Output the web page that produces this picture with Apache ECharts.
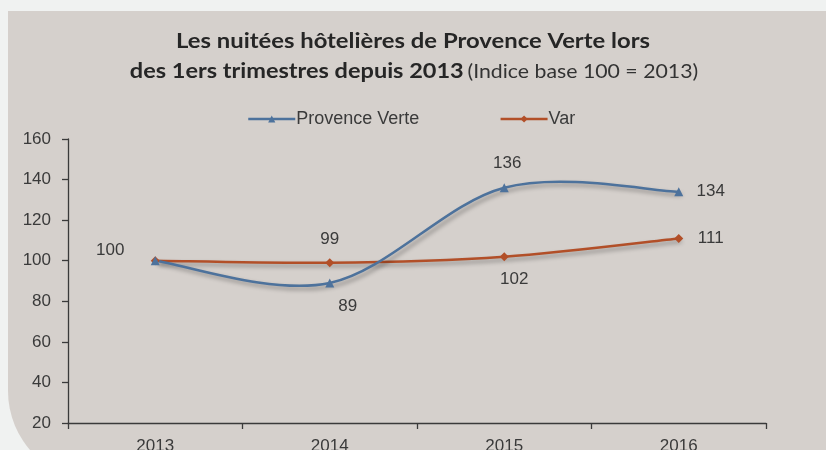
<!DOCTYPE html>
<html>
<head>
<meta charset="utf-8">
<script src="https://cdn.jsdelivr.net/npm/echarts@6/dist/echarts.min.js"></script>
<style>
  html, body { margin: 0; padding: 0; background: #f0f2f1; }
  #chart { width: 826px; height: 450px; }
</style>
</head>
<body>
<div id="chart"></div>
<script>
// Années (1ers trimestres)
const years = ['2013', '2014', '2015', '2016'];
// Indice base 100 = 2013
const provenceVerte = [100, 89, 136, 134];
const varDept = [100, 99, 102, 111];
const yTicks = [20, 40, 60, 80, 100, 120, 140, 160];

// Placement of each value label relative to its point [dx, dy]; null = hidden
const pvLabelOffsets = [[-45, -10], [18, 23], [3, -24], [32, 0]];
const varLabelOffsets = [null, [0, -23], [10, 23], [32, 0]];

const BLUE = '#4d729c';
const RUST = '#b24f28';
const TEXT = '#3a3a3a';
const SANS = 'Liberation Sans, Arial, sans-serif';

function withLabels(values, offsets) {
  return values.map((v, i) => {
    const off = offsets[i];
    if (!off) return { value: v, label: { show: false } };
    return { value: v, label: { show: true, position: 'inside', offset: off } };
  });
}

// Smoothed path through the points (cardinal spline, tangent = (next - prev) / 6)
function smoothPath(api, values) {
  const pts = values.map((v, i) => api.coord([i, v]));
  let d = 'M' + pts[0][0] + ',' + pts[0][1];
  for (let i = 0; i < pts.length - 1; i++) {
    const p0 = pts[i - 1] || pts[i];
    const p1 = pts[i];
    const p2 = pts[i + 1];
    const p3 = pts[i + 2] || pts[i + 1];
    const c1x = p1[0] + (p2[0] - p0[0]) / 6;
    const c1y = p1[1] + (p2[1] - p0[1]) / 6;
    const c2x = p2[0] - (p3[0] - p1[0]) / 6;
    const c2y = p2[1] - (p3[1] - p1[1]) / 6;
    d += ' C' + c1x + ',' + c1y + ' ' + c2x + ',' + c2y + ' ' + p2[0] + ',' + p2[1];
  }
  return d;
}

function curveSeries(name, values, color, z) {
  return {
    name: name + ' (courbe)',
    type: 'custom',
    z: z,
    silent: true,
    data: values.map((v, i) => [i, v]),
    renderItem: function (params, api) {
      if (params.dataIndex !== 0) return null;
      return {
        type: 'path',
        shape: { pathData: smoothPath(api, values) },
        style: {
          fill: 'none',
          stroke: color,
          lineWidth: 2.5,
          shadowColor: 'rgba(0,0,0,0.35)',
          shadowBlur: 4,
          shadowOffsetX: 3,
          shadowOffsetY: 3
        }
      };
    }
  };
}

const chart = echarts.init(document.getElementById('chart'), null, { renderer: 'canvas' });

const labelStyle = {
  color: TEXT,
  fontFamily: SANS,
  fontSize: 17,
  align: 'center',
  verticalAlign: 'middle'
};

chart.setOption({
  backgroundColor: 'transparent',
  animation: false,
  graphic: [{
    type: 'rect',
    z: -10,
    shape: { x: 8, y: 11, width: 830, height: 470, r: [0, 0, 0, 90] },
    style: { fill: '#d5d0cc' },
    silent: true
  }, {
    type: 'text',
    x: 413,
    y: 31,
    scaleX: 1.135,
    style: {
      text: 'Les nuitées hôtelières de Provence Verte lors',
      font: 'bold 21px Lato, sans-serif',
      fill: '#262626',
      align: 'center',
      verticalAlign: 'top'
    }
  }, {
    type: 'text',
    x: 414,
    y: 61,
    scaleX: 1.12,
    style: {
      text: '{b|des 1ers trimestres depuis 2013} {n|(Indice base 100 = 2013)}',
      align: 'center',
      verticalAlign: 'top',
      rich: {
        b: { font: 'bold 21px Lato, sans-serif', fill: '#262626', color: '#262626' },
        n: { font: '19px Lato, sans-serif', fill: '#333333', color: '#333333' }
      }
    }
  }],
  legend: {
    top: 105,
    left: 242,
    itemWidth: 47,
    itemHeight: 9,
    itemGap: 80,
    textStyle: {
      color: TEXT,
      fontFamily: SANS,
      fontSize: 18,
      padding: [0, 0, 0, -4]
    },
    data: [{
      name: 'Provence Verte',
      lineStyle: { color: BLUE, width: 2.5, opacity: 1, shadowBlur: 0 }
    }, {
      name: 'Var',
      lineStyle: { color: RUST, width: 2.5, opacity: 1, shadowBlur: 0 }
    }]
  },
  grid: {
    left: 68, right: 60, top: 139, bottom: 27,
    containLabel: false,
    outerBoundsMode: 'none'
  },
  xAxis: {
    type: 'category',
    data: years,
    boundaryGap: true,
    axisLine: { lineStyle: { color: TEXT, width: 1.3 } },
    axisTick: { show: true, length: 6, lineStyle: { color: TEXT, width: 1.3 } },
    axisLabel: {
      color: TEXT,
      fontFamily: SANS,
      fontSize: 17,
      margin: 15
    }
  },
  yAxis: {
    type: 'value',
    min: yTicks[0],
    max: yTicks[yTicks.length - 1],
    interval: yTicks[1] - yTicks[0],
    splitLine: { show: false },
    axisLine: { show: true, lineStyle: { color: TEXT, width: 1.3 } },
    axisTick: { show: true, length: 6, lineStyle: { color: TEXT, width: 1.3 } },
    axisLabel: {
      color: TEXT,
      fontFamily: SANS,
      fontSize: 17,
      margin: 17
    }
  },
  series: [
    curveSeries('Var', varDept, RUST, 1),
    curveSeries('Provence Verte', provenceVerte, BLUE, 2),
    {
      name: 'Provence Verte',
      type: 'line',
      data: withLabels(provenceVerte, pvLabelOffsets),
      symbol: 'triangle',
      symbolSize: 9,
      itemStyle: { color: BLUE },
      lineStyle: { color: BLUE, width: 2.5, opacity: 0 },
      label: labelStyle,
      z: 4
    }, {
      name: 'Var',
      type: 'line',
      data: withLabels(varDept, varLabelOffsets),
      symbol: 'diamond',
      symbolSize: 9,
      itemStyle: { color: RUST },
      lineStyle: { color: RUST, width: 2.5, opacity: 0 },
      label: labelStyle,
      z: 3
    }
  ]
});
</script>
</body>
</html>
